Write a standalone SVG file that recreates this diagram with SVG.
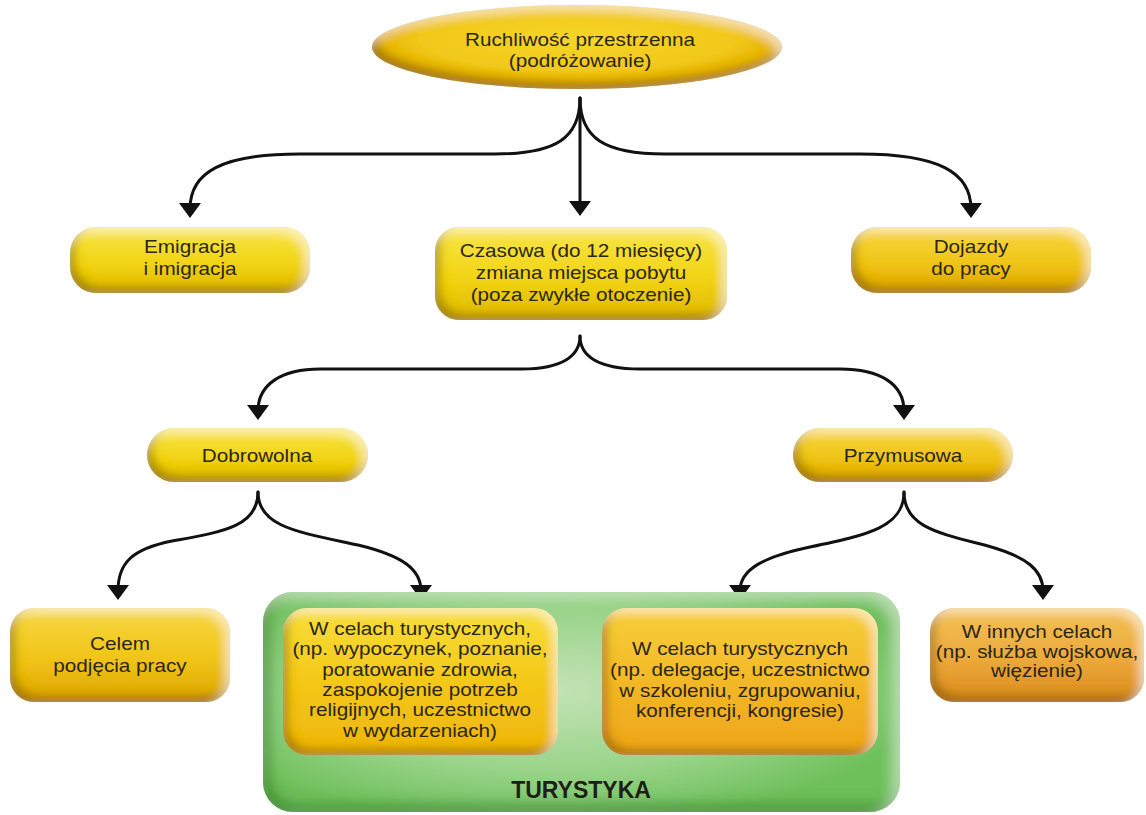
<svg xmlns="http://www.w3.org/2000/svg" width="1146" height="815" viewBox="0 0 1146 815">
<defs>
<style>
.t{font-family:"Liberation Sans",Arial,sans-serif;font-size:18px;fill:#2b2614;text-anchor:middle}
.tb{font-family:"Liberation Sans",Arial,sans-serif;font-size:23px;font-weight:bold;fill:#1e1e14;text-anchor:middle}
.c{fill:none;stroke:#111;stroke-width:3;stroke-linecap:round}
</style>
<linearGradient id="gY" x1="0" y1="0" x2="0" y2="1">
<stop offset="0" stop-color="#f8e64a"/><stop offset="0.55" stop-color="#f1d414"/><stop offset="1" stop-color="#e0b800"/>
</linearGradient>
<linearGradient id="gG" x1="0" y1="0" x2="0" y2="1">
<stop offset="0" stop-color="#f7d842"/><stop offset="0.55" stop-color="#f0c418"/><stop offset="1" stop-color="#dca400"/>
</linearGradient>
<linearGradient id="gO" x1="0" y1="0" x2="0" y2="1">
<stop offset="0" stop-color="#f3c258"/><stop offset="0.55" stop-color="#eca83a"/><stop offset="1" stop-color="#d98a1c"/>
</linearGradient>
<linearGradient id="gI1" x1="0" y1="0" x2="0" y2="1">
<stop offset="0" stop-color="#f8de3a"/><stop offset="0.5" stop-color="#f4c818"/><stop offset="1" stop-color="#eeb40e"/>
</linearGradient>
<linearGradient id="gI2" x1="0" y1="0" x2="0" y2="1">
<stop offset="0" stop-color="#f7cf3c"/><stop offset="0.5" stop-color="#f3b826"/><stop offset="1" stop-color="#eea41c"/>
</linearGradient>
<radialGradient id="gE" cx="0.5" cy="0.4" r="0.55">
<stop offset="0" stop-color="#f6d62a"/><stop offset="0.7" stop-color="#f1c81a"/><stop offset="1" stop-color="#e0a800"/>
</radialGradient>
<radialGradient id="gGr" cx="0.45" cy="0.45" r="0.6">
<stop offset="0" stop-color="#c4e3b6"/><stop offset="0.6" stop-color="#9ad48a"/><stop offset="1" stop-color="#6dc05a"/>
</radialGradient>
<filter id="bev" x="-10%" y="-20%" width="120%" height="140%">
<feGaussianBlur in="SourceAlpha" stdDeviation="5" result="blur"/>
<feOffset in="blur" dx="5" dy="-6" result="off"/>
<feComposite in="SourceAlpha" in2="off" operator="out" result="edge"/>
<feFlood flood-color="#6b4800" flood-opacity="0.6"/>
<feComposite in2="edge" operator="in" result="shade"/>
<feOffset in="blur" dx="-5" dy="5" result="off2"/>
<feComposite in="SourceAlpha" in2="off2" operator="out" result="edge2"/>
<feFlood flood-color="#fffbe6" flood-opacity="0.55"/>
<feComposite in2="edge2" operator="in" result="hl"/>
<feMerge><feMergeNode in="SourceGraphic"/><feMergeNode in="shade"/><feMergeNode in="hl"/></feMerge>
</filter>
<filter id="bevG" x="-5%" y="-10%" width="110%" height="120%">
<feGaussianBlur in="SourceAlpha" stdDeviation="7" result="blur"/>
<feOffset in="blur" dx="7" dy="-8" result="off"/>
<feComposite in="SourceAlpha" in2="off" operator="out" result="edge"/>
<feFlood flood-color="#2a7418" flood-opacity="0.65"/>
<feComposite in2="edge" operator="in" result="shade"/>
<feOffset in="blur" dx="-7" dy="7" result="off2"/>
<feComposite in="SourceAlpha" in2="off2" operator="out" result="edge2"/>
<feFlood flood-color="#eaf7e2" flood-opacity="0.5"/>
<feComposite in2="edge2" operator="in" result="hl"/>
<feMerge><feMergeNode in="SourceGraphic"/><feMergeNode in="shade"/><feMergeNode in="hl"/></feMerge>
</filter>
<marker id="ah" viewBox="0 -11 16 22" refX="6" refY="0" markerWidth="16" markerHeight="22" markerUnits="userSpaceOnUse" orient="auto">
<path d="M0,-11 L15,0 L0,11 z" fill="#111"/>
</marker>
</defs>

<g id="connectors">
<path class="c" d="M580,98 V207" marker-end="url(#ah)"/>
<path class="c" d="M580,98 C580,138 556,154 495,154 H300 C222,154 190,172 190,209" marker-end="url(#ah)"/>
<path class="c" d="M580,98 C580,138 604,154 665,154 H860 C938,154 971,172 971,209" marker-end="url(#ah)"/>
<path class="c" d="M580,336 C580,356 562,369 522,369 H320 C282,369 258,384 258,411" marker-end="url(#ah)"/>
<path class="c" d="M580,336 C580,356 598,369 640,369 H840 C880,369 904,384 904,411" marker-end="url(#ah)"/>
<path class="c" d="M258,492 C258,527 222,532 172,541 C132,549 118,563 118,591" marker-end="url(#ah)"/>
<path class="c" d="M258,492 C258,527 298,532 358,545 C404,556 421,570 421,591" marker-end="url(#ah)"/>
<path class="c" d="M904,492 C904,527 868,535 810,547 C762,557 740,570 740,591" marker-end="url(#ah)"/>
<path class="c" d="M904,492 C904,527 938,533 988,546 C1027,557 1043,570 1043,591" marker-end="url(#ah)"/>
</g>

<g id="n-ruchliwosc">
<ellipse cx="577" cy="47" rx="205" ry="42" fill="url(#gE)" filter="url(#bev)"/>
<text class="t" transform="translate(580 0) scale(1.15 1)"><tspan x="0" y="46">Ruchliwość przestrzenna</tspan><tspan x="0" y="67">(podróżowanie)</tspan></text>
</g>

<g id="n-emigracja">
<rect x="70" y="227" width="240" height="66" rx="26" fill="url(#gY)" filter="url(#bev)"/>
<text class="t" transform="translate(190 0) scale(1.15 1)"><tspan x="0" y="253">Emigracja</tspan><tspan x="0" y="275">i imigracja</tspan></text>
</g>

<g id="n-czasowa">
<rect x="435" y="227" width="292" height="93" rx="24" fill="url(#gY)" filter="url(#bev)"/>
<text class="t" transform="translate(581 0) scale(1.15 1)"><tspan x="0" y="257">Czasowa (do 12 miesięcy)</tspan><tspan x="0" y="279">zmiana miejsca pobytu</tspan><tspan x="0" y="301">(poza zwykłe otoczenie)</tspan></text>
</g>

<g id="n-dojazdy">
<rect x="851" y="227" width="240" height="66" rx="26" fill="url(#gG)" filter="url(#bev)"/>
<text class="t" transform="translate(971 0) scale(1.15 1)"><tspan x="0" y="253">Dojazdy</tspan><tspan x="0" y="275">do pracy</tspan></text>
</g>

<g id="n-dobrowolna">
<rect x="147" y="428" width="221" height="54" rx="27" fill="url(#gY)" filter="url(#bev)"/>
<text class="t" transform="translate(257 0) scale(1.15 1)" x="0" y="462">Dobrowolna</text>
</g>

<g id="n-przymusowa">
<rect x="793" y="428" width="220" height="54" rx="27" fill="url(#gG)" filter="url(#bev)"/>
<text class="t" transform="translate(903 0) scale(1.15 1)" x="0" y="462">Przymusowa</text>
</g>

<g id="n-celem">
<rect x="10" y="608" width="220" height="94" rx="24" fill="url(#gG)" filter="url(#bev)"/>
<text class="t" transform="translate(120 0) scale(1.15 1)"><tspan x="0" y="650">Celem</tspan><tspan x="0" y="672">podjęcia pracy</tspan></text>
</g>

<g id="n-turystyka">
<rect x="263" y="592" width="637" height="220" rx="30" fill="url(#gGr)" filter="url(#bevG)"/>
<text class="tb" x="581" y="798">TURYSTYKA</text>
</g>

<g id="n-dobrowolna-turyst">
<rect x="283" y="608" width="275" height="147" rx="24" fill="url(#gI1)" filter="url(#bev)"/>
<text class="t" transform="translate(420 0) scale(1.15 1)"><tspan x="0" y="635">W celach turystycznych,</tspan><tspan x="0" y="655">(np. wypoczynek, poznanie,</tspan><tspan x="0" y="676">poratowanie zdrowia,</tspan><tspan x="0" y="696">zaspokojenie potrzeb</tspan><tspan x="0" y="716">religijnych, uczestnictwo</tspan><tspan x="0" y="737">w wydarzeniach)</tspan></text>
</g>

<g id="n-przymusowa-turyst">
<rect x="602" y="608" width="276" height="147" rx="24" fill="url(#gI2)" filter="url(#bev)"/>
<text class="t" transform="translate(740 0) scale(1.15 1)"><tspan x="0" y="655">W celach turystycznych</tspan><tspan x="0" y="676">(np. delegacje, uczestnictwo</tspan><tspan x="0" y="697">w szkoleniu, zgrupowaniu,</tspan><tspan x="0" y="717">konferencji, kongresie)</tspan></text>
</g>

<g id="n-inne">
<rect x="930" y="608" width="214" height="94" rx="24" fill="url(#gO)" filter="url(#bev)"/>
<text class="t" transform="translate(1037 0) scale(1.15 1)"><tspan x="0" y="638">W innych celach</tspan><tspan x="0" y="658">(np. służba wojskowa,</tspan><tspan x="0" y="677">więzienie)</tspan></text>
</g>
</svg>
